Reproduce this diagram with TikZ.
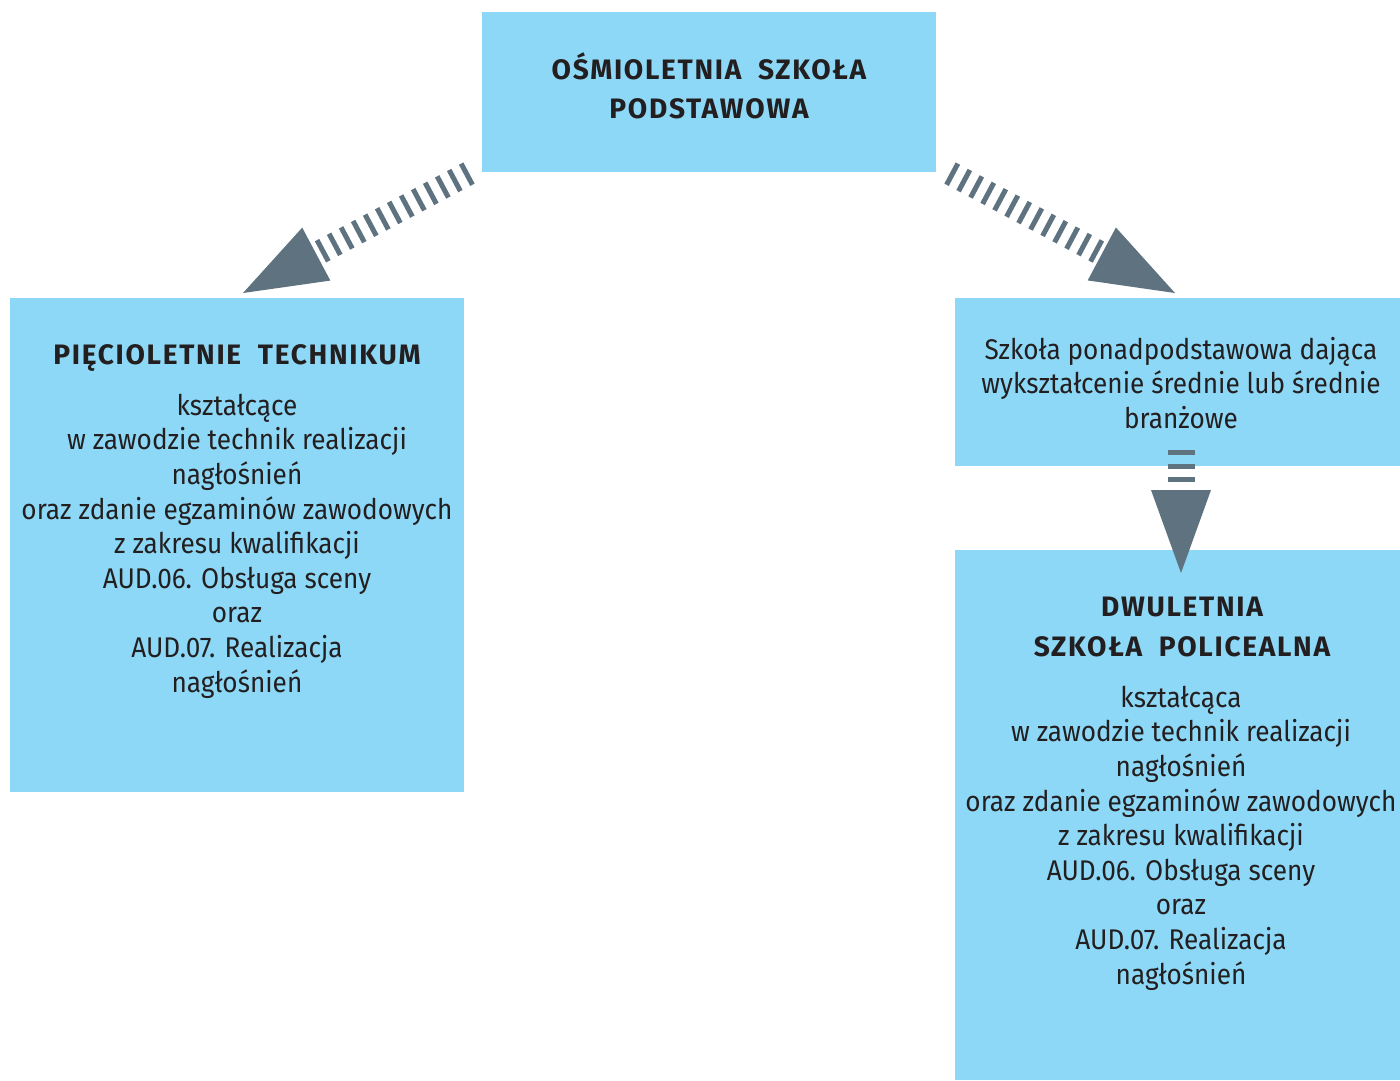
\documentclass[tikz,border=0pt]{standalone}
\usepackage{fontspec}
\setmainfont{Fira Sans}[FakeStretch=0.92]
\newfontfamily\headfont{Fira Sans}[LetterSpace=6]
\usetikzlibrary{arrows.meta}

\definecolor{boxblue}{HTML}{8DD8F6}
\definecolor{arrowgray}{HTML}{5E7280}
\definecolor{ink}{HTML}{231F20}

\tikzset{
  box/.style={fill=boxblue, inner sep=0pt},
  head/.style={font=\headfont\bfseries\fontsize{16}{22.3}\selectfont, text=ink, align=center},
  body/.style={font=\fontsize{16.2}{19.7}\selectfont, text=ink, align=center},
  stripes/.style={arrowgray, line width=0.48cm, dash pattern=on 0.1cm off 0.172cm,
    -{Triangle[length=1.66cm,width=1.2cm,line width=0pt]}}
}

\begin{document}
\begin{tikzpicture}[x=0.02cm,y=-0.02cm]
\useasboundingbox (0,0) rectangle (1400,1080);

% boxes
\node[box, minimum width=9.08cm, minimum height=3.2cm] (top) at (709,92) {};
\node[box, minimum width=9.08cm, minimum height=9.88cm] (left) at (237,545) {};
\node[box, minimum width=8.9cm, minimum height=3.36cm] (rtop) at (1177.5,382) {};
\node[box, minimum width=8.9cm, minimum height=10.6cm] (rbot) at (1177.5,815) {};

% texts
\node[head] (toptxt) at (709,86) {OŚMIOLETNIA\ \ SZKOŁA\\PODSTAWOWA};
\node[head] (lefthead) at (237,358) {PIĘCIOLETNIE\ \ TECHNIKUM};
\node[body] (lefttxt) at (237,546) {kształcące\\w zawodzie technik realizacji\\nagłośnień\\oraz zdanie egzaminów zawodowych\\z zakresu kwalifikacji\\AUD.06. Obsługa sceny\\oraz\\AUD.07. Realizacja\\nagłośnień};
\node[body] (rtoptxt) at (1181,383) {Szkoła ponadpodstawowa dająca\\wykształcenie średnie lub średnie\\branżowe};
\node[head] (rbothead) at (1182,627) {DWULETNIA\\SZKOŁA\ \ POLICEALNA};
\node[body] (rbottxt) at (1181,838) {kształcąca\\w zawodzie technik realizacji\\nagłośnień\\oraz zdanie egzaminów zawodowych\\z zakresu kwalifikacji\\AUD.06. Obsługa sceny\\oraz\\AUD.07. Realizacja\\nagłośnień};

% arrows
\coordinate (l0) at (469,173);
\coordinate (l1) at (243,293);
\coordinate (r0) at (950,173);
\coordinate (r1) at (1175,293);
\coordinate (d0) at (1181,450);
\coordinate (d1) at (1181,573);
\draw[stripes] (l0) -- (l1);
\draw[stripes] (r0) -- (r1);
\draw[stripes, line width=0.54cm] (d0) -- (d1);
\end{tikzpicture}
\end{document}
